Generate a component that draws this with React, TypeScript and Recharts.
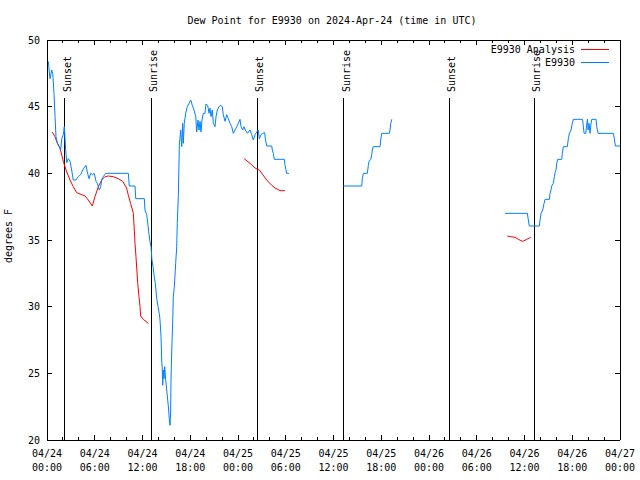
import { LineChart, Line, XAxis, YAxis, ReferenceLine } from "recharts";

// hours after 2024-04-24 00:00 UTC, dew point in F
const obsSeg1: [number, number][] = [
  [0.16, 48.4], [0.38, 47.1], [0.59, 47.75], [0.72, 47.5], [0.88, 46.0], [1.01, 44.25], [1.13, 42.75],
  [1.29, 42.3], [1.55, 42.0], [1.72, 41.75], [1.85, 42.6], [2.05, 42.9], [2.17, 43.5], [2.35, 41.75],
  [2.48, 40.8], [2.68, 41.1], [2.89, 40.9], [3.1, 40.25], [3.3, 39.5], [3.64, 39.5], [3.93, 39.75],
  [4.23, 39.9], [4.49, 40.25], [4.65, 40.4], [4.9, 40.6], [5.06, 40.1], [5.28, 39.6], [5.49, 40.0],
  [5.74, 39.9], [5.94, 40.0], [6.16, 39.4], [6.32, 39.25], [6.57, 38.75], [6.75, 39.0], [6.87, 39.5],
  [7.07, 39.75], [7.38, 40.0], [10.22, 40.0], [10.34, 39.05], [11.06, 39.05], [11.15, 38.1], [12.23, 38.1],
  [12.31, 37.25], [12.53, 36.9], [12.69, 36.1], [12.82, 35.4], [12.94, 34.9], [13.07, 34.5], [13.19, 33.5],
  [13.32, 33.0], [13.48, 32.25], [13.61, 31.75], [13.79, 30.6], [13.95, 30.0], [14.11, 29.5], [14.2, 29.0],
  [14.33, 27.75], [14.41, 26.0], [14.49, 25.25], [14.54, 24.1], [14.61, 25.25], [14.7, 24.6], [14.79, 25.5],
  [14.92, 24.5], [15.04, 23.75], [15.17, 23.0], [15.29, 22.25], [15.37, 21.5], [15.46, 21.1], [15.54, 22.25],
  [15.58, 24.5], [15.67, 26.6], [15.8, 29.0], [15.87, 30.75], [16.0, 31.5], [16.17, 33.25], [16.3, 34.5],
  [16.37, 36.25], [16.5, 38.25], [16.63, 42.1], [16.8, 43.25], [16.93, 42.0], [17.05, 43.75], [17.13, 42.25],
  [17.25, 43.75], [17.43, 44.5], [17.63, 45.0], [17.84, 45.25], [18.06, 45.5], [18.26, 45.1], [18.47, 44.75],
  [18.69, 44.25], [18.81, 43.1], [18.97, 44.0], [19.1, 43.25], [19.23, 43.9], [19.35, 43.1], [19.48, 44.0],
  [19.64, 44.5], [19.85, 44.5], [19.98, 45.2], [20.19, 45.1], [20.36, 44.5], [20.48, 44.9], [20.61, 44.25],
  [20.77, 44.75], [20.9, 43.75], [21.11, 43.5], [21.24, 44.25], [21.4, 44.75], [21.61, 45.0], [21.83, 45.1],
  [22.03, 45.0], [22.15, 44.4], [22.37, 43.9], [22.58, 44.4], [22.78, 44.1], [23.0, 43.75], [23.21, 43.5],
  [23.41, 43.0], [23.62, 43.25], [23.84, 43.5], [24.04, 43.75], [24.25, 44.05], [24.38, 43.5], [24.59, 43.25],
  [24.76, 43.5], [24.92, 43.25], [25.17, 43.0], [25.51, 43.25], [25.72, 42.9], [25.92, 42.5], [26.14, 42.9],
  [26.35, 43.1], [26.55, 43.25], [26.68, 42.6], [26.89, 42.9], [27.11, 43.0], [27.36, 43.05], [27.43, 42.6],
  [27.61, 42.05], [28.24, 42.05], [28.31, 41.75], [28.44, 41.5], [28.56, 41.05], [29.82, 41.05], [29.91, 40.6],
  [30.03, 40.25], [30.12, 40.0], [30.41, 40.0],
];
const obsSeg2: [number, number][] = [
  [37.23, 39.05], [39.55, 39.05], [39.62, 39.6], [39.75, 40.0], [40.25, 40.0], [40.38, 40.6], [40.46, 40.9],
  [40.68, 41.05], [40.8, 41.4], [40.88, 41.75], [41.0, 42.0], [41.85, 42.0], [41.93, 42.5], [42.06, 43.0],
  [43.02, 43.0], [43.1, 43.25], [43.19, 43.75], [43.32, 44.05],
];
const obsSeg3: [number, number][] = [
  [57.55, 37.0], [60.36, 37.0], [60.48, 36.5], [60.61, 36.05], [61.87, 36.05], [61.95, 36.5], [62.08, 37.0],
  [62.29, 37.25], [62.46, 37.75], [62.58, 38.05], [63.13, 38.05], [63.21, 38.5], [63.33, 38.75], [63.42, 39.05],
  [63.62, 39.25], [63.75, 39.75], [63.84, 40.05], [63.96, 40.25], [64.05, 40.75], [64.17, 41.05], [64.68, 41.05],
  [64.75, 41.5], [64.88, 42.0], [65.38, 42.0], [65.51, 42.6], [65.64, 43.0], [65.85, 43.25], [66.01, 43.75],
  [66.14, 44.05], [67.29, 44.05], [67.41, 43.4], [67.49, 43.0], [67.7, 43.0], [67.83, 43.75], [67.91, 44.05],
  [67.99, 43.25], [68.11, 43.75], [68.24, 43.0], [68.33, 43.6], [68.45, 44.05], [68.99, 44.05], [69.08, 43.5],
  [69.25, 43.0], [71.16, 43.0], [71.29, 42.6], [71.42, 42.05], [72.0, 42.05],
];

const anaSeg1: [number, number][] = [
  [0.67, 43.1], [1.0, 42.75], [1.3, 42.25], [1.63, 41.9], [2.05, 40.9], [2.39, 40.25], [2.89, 39.5],
  [3.3, 39.0], [3.73, 38.55], [4.78, 38.3], [5.19, 38.0], [5.69, 37.55], [6.03, 38.25], [6.45, 39.0],
  [6.87, 39.5], [7.29, 39.75], [7.7, 39.8], [8.33, 39.75], [8.96, 39.6], [9.51, 39.4], [10.0, 38.9],
  [10.2, 38.4], [10.5, 37.75], [10.85, 37.0], [11.06, 34.75], [11.18, 33.75], [11.4, 31.75], [11.56, 30.75],
  [11.69, 30.0], [11.77, 29.3], [12.1, 29.05], [12.73, 28.75],
];
const anaSeg2: [number, number][] = [
  [24.76, 41.1], [25.51, 40.75], [26.14, 40.4], [26.68, 40.25], [27.11, 39.9], [27.61, 39.5], [28.24, 39.1],
  [28.65, 38.9], [29.28, 38.7], [29.91, 38.7],
];
const anaSeg3: [number, number][] = [
  [57.84, 35.3], [58.27, 35.25], [58.81, 35.2], [59.23, 35.05], [59.78, 34.9], [60.28, 35.05], [60.78, 35.2],
];

const sunHours = [2.26, 13.07, 26.39, 37.26, 50.52, 61.2];
const sunLabels = ["Sunset", "Sunrise", "Sunset", "Sunrise", "Sunset", "Sunrise"];

const majorHours = [0, 6, 12, 18, 24, 30, 36, 42, 48, 54, 60, 66, 72];
const tickDates = ["04/24", "04/24", "04/24", "04/24", "04/25", "04/25", "04/25", "04/25", "04/26", "04/26", "04/26", "04/26", "04/27"];
const tickTimes = ["00:00", "06:00", "12:00", "18:00", "00:00", "06:00", "12:00", "18:00", "00:00", "06:00", "12:00", "18:00", "00:00"];
const allTickHours = [0, 2, 4, 6, 8, 10, 12, 14, 16, 18, 20, 22, 24, 26, 28, 30, 32, 34, 36, 38, 40, 42, 44, 46, 48, 50, 52, 54, 56, 58, 60, 62, 64, 66, 68, 70, 72];
const yTicks = [20, 25, 30, 35, 40, 45, 50];

const FONT = "'DejaVu Sans Mono', 'Liberation Mono', monospace";
const RED = "#ff0000";
const BLUE = "#0080ff";

const joinSegs = (segs: [number, number][][]) =>
  segs.flatMap((s, i) => {
    const pts: { h: number; v: number | null }[] = s.map(([h, v]) => ({ h, v }));
    if (i < segs.length - 1) pts.push({ h: s[s.length - 1][0] + 0.5, v: null });
    return pts;
  });

const obsData = joinSegs([obsSeg1, obsSeg2, obsSeg3]);
const anaData = joinSegs([anaSeg1, anaSeg2, anaSeg3]);

function BottomTick({ x, y, payload }: any) {
  const i = majorHours.indexOf(payload.value);
  const len = i >= 0 ? 5 : 3;
  return (
    <g>
      <line x1={x} x2={x} y1={y} y2={y - len} stroke="#000" shapeRendering="crispEdges" />
      {i >= 0 && (
        <text x={x} y={y} textAnchor="middle" fontFamily={FONT} fontSize={10} fill="#000">
          <tspan x={x} dy={17}>{tickDates[i]}</tspan>
          <tspan x={x} dy={14}>{tickTimes[i]}</tspan>
        </text>
      )}
    </g>
  );
}

function TopTick({ x, y, payload }: any) {
  const len = majorHours.includes(payload.value) ? 5 : 3;
  return <line x1={x} x2={x} y1={y} y2={y + len} stroke="#000" shapeRendering="crispEdges" />;
}

function LeftTick({ x, y, payload }: any) {
  return (
    <g>
      <line x1={x} x2={x + 5} y1={y} y2={y} stroke="#000" shapeRendering="crispEdges" />
      <text x={x - 7} y={y} dy="0.35em" textAnchor="end" fontFamily={FONT} fontSize={10} fill="#000">
        {payload.value}
      </text>
    </g>
  );
}

function RightTick({ x, y }: any) {
  return <line x1={x} x2={x - 5} y1={y} y2={y} stroke="#000" shapeRendering="crispEdges" />;
}

const sunShape = (label: string) => (p: any) => {
  const top = Math.min(p.y1, p.y2);
  const bottom = Math.max(p.y1, p.y2);
  const tx = p.x1 + 6;
  const ty = top + 52;
  return (
    <g>
      <line x1={p.x1} x2={p.x1} y1={top + 58} y2={bottom} stroke="#000" strokeWidth={1} shapeRendering="crispEdges" />
      <text x={tx} y={ty} transform={`rotate(-90 ${tx} ${ty})`} fontFamily={FONT} fontSize={10} fill="#000">
        {label}
      </text>
    </g>
  );
};

export default function App() {
  const axisLine = { stroke: "#000", shapeRendering: "crispEdges" } as any;
  return (
    <div style={{ position: "absolute", left: 0, top: 0, width: 640, height: 480, background: "#fff" }}>
      <LineChart width={640} height={480} margin={{ top: 30, right: 0, bottom: 0, left: 0 }}>
        <XAxis xAxisId="b" dataKey="h" type="number" domain={[0, 72]} ticks={allTickHours} interval={0}
          height={40} tickSize={0} tickMargin={0} tickLine={false} axisLine={axisLine} tick={<BottomTick />} allowDataOverflow />
        <XAxis xAxisId="t" orientation="top" dataKey="h" type="number" domain={[0, 72]} ticks={allTickHours} interval={0}
          height={10} tickSize={0} tickMargin={0} tickLine={false} axisLine={axisLine} tick={<TopTick />} allowDataOverflow />
        <YAxis yAxisId="l" type="number" domain={[20, 50]} ticks={yTicks} interval={0} width={47}
          tickSize={0} tickMargin={0} tickLine={false} axisLine={axisLine} tick={<LeftTick />} allowDataOverflow />
        <YAxis yAxisId="r" orientation="right" type="number" domain={[20, 50]} ticks={yTicks} interval={0} width={20}
          tickSize={0} tickMargin={0} tickLine={false} axisLine={axisLine} tick={<RightTick />} allowDataOverflow />
        {sunHours.map((h, i) => (
          <ReferenceLine key={i} x={h} xAxisId="b" yAxisId="l" shape={sunShape(sunLabels[i])} />
        ))}
        <Line data={anaData} dataKey="v" xAxisId="b" yAxisId="l" type="linear" stroke={RED} strokeWidth={1}
          dot={false} activeDot={false} connectNulls={false} isAnimationActive={false} />
        <Line data={obsData} dataKey="v" xAxisId="b" yAxisId="l" type="linear" stroke={BLUE} strokeWidth={1}
          dot={false} activeDot={false} connectNulls={false} isAnimationActive={false} />
      </LineChart>
      <svg width={640} height={480} style={{ position: "absolute", left: 0, top: 0, pointerEvents: "none" }}>
        <text x={332} y={24} textAnchor="middle" fontFamily={FONT} fontSize={10} fill="#000">
          Dew Point for E9930 on 2024-Apr-24 (time in UTC)
        </text>
        <text x={12} y={236} textAnchor="middle" transform="rotate(-90 12 236)" fontFamily={FONT} fontSize={10} fill="#000">
          degrees F
        </text>
        <text x={575} y={53} textAnchor="end" fontFamily={FONT} fontSize={10} fill="#000">E9930 Analysis</text>
        <line x1={581} x2={609} y1={49.5} y2={49.5} stroke={RED} strokeWidth={1} />
        <text x={575} y={66} textAnchor="end" fontFamily={FONT} fontSize={10} fill="#000">E9930</text>
        <line x1={581} x2={609} y1={62.5} y2={62.5} stroke={BLUE} strokeWidth={1} />
      </svg>
    </div>
  );
}
